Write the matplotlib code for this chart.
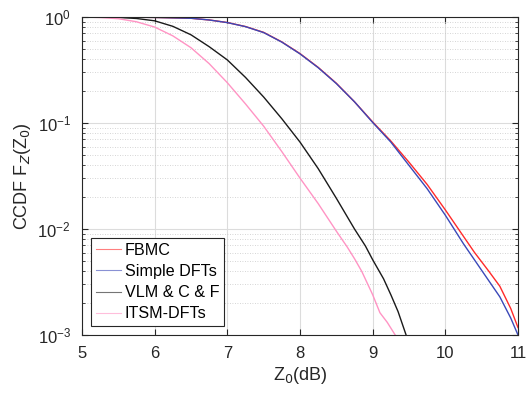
import numpy as np
import matplotlib
matplotlib.use("Agg")
import matplotlib.pyplot as plt
from matplotlib.ticker import LogLocator, NullFormatter

plt.rcParams['font.family'] = ['Liberation Sans', 'DejaVu Sans']

# log10 of CCDF values
x_fbmc = [5.0, 5.5, 6.0, 6.5, 6.75, 7.0, 7.25, 7.5, 7.75, 8.0, 8.25, 8.5, 8.75, 9.0,
          9.25, 9.5, 9.75, 10.0, 10.25, 10.4, 10.5, 10.6, 10.75, 10.9, 11.0]
l_fbmc = [0.0, -0.001, -0.004, -0.012, -0.028, -0.052, -0.09, -0.145, -0.235, -0.345, -0.475, -0.625, -0.80, -0.99,
          -1.17, -1.37, -1.58, -1.82, -2.07, -2.22, -2.31, -2.40, -2.54, -2.75, -2.93]

x_sdft = [5.0, 5.5, 6.0, 6.5, 6.75, 7.0, 7.25, 7.5, 7.75, 8.0, 8.25, 8.5, 8.75, 9.0,
          9.25, 9.5, 9.75, 10.0, 10.25, 10.4, 10.5, 10.6, 10.75, 10.9, 11.0]
l_sdft = [0.0, -0.001, -0.004, -0.012, -0.028, -0.053, -0.091, -0.147, -0.237, -0.348, -0.478, -0.628, -0.80, -0.995,
          -1.18, -1.40, -1.62, -1.87, -2.14, -2.29, -2.39, -2.49, -2.64, -2.84, -3.0]

x_vlm = [5.0, 5.5, 5.75, 6.0, 6.25, 6.5, 6.75, 7.0, 7.25, 7.5, 7.75, 8.0, 8.25, 8.5,
         8.75, 8.9, 9.0, 9.15, 9.25, 9.35, 9.46]
l_vlm = [0.0, -0.004, -0.014, -0.036, -0.088, -0.168, -0.28, -0.405, -0.57, -0.755, -0.96, -1.18, -1.43, -1.71,
         -2.0, -2.16, -2.29, -2.47, -2.62, -2.78, -3.0]

x_itsm = [5.0, 5.25, 5.5, 5.75, 6.0, 6.25, 6.5, 6.75, 7.0, 7.25, 7.5, 7.75, 8.0, 8.25,
          8.5, 8.65, 8.75, 8.85, 9.0, 9.1, 9.2, 9.31]
l_itsm = [0.0, -0.005, -0.016, -0.045, -0.095, -0.178, -0.29, -0.44, -0.62, -0.82, -1.03, -1.27, -1.52, -1.76,
          -2.02, -2.17, -2.28, -2.40, -2.62, -2.79, -2.88, -3.0]

labels = ['FBMC', 'Simple DFTs', 'VLM & C & F', 'ITSM-DFTs']
colors = ['#ff2a2a', '#3a48b8', '#1a1a1a', '#ff94c4']

fig = plt.figure(figsize=(5.26, 3.94), dpi=100)
ax = fig.add_axes([82/526, 1-335/394, (518-82)/526, (335-17)/394])

series = [(x_fbmc, l_fbmc), (x_sdft, l_sdft), (x_vlm, l_vlm), (x_itsm, l_itsm)]
for (xs, ls), lab, c in zip(series, labels, colors):
    ax.plot(xs, 10.0 ** np.array(ls), color=c, lw=1.0, label=lab)

ax.set_yscale('log')
ax.set_xlim(5, 11)
ax.set_ylim(1e-3, 1)
ax.set_xticks([5, 6, 7, 8, 9, 10, 11])
ax.yaxis.set_major_locator(LogLocator(base=10, numticks=10))
ax.yaxis.set_minor_locator(LogLocator(base=10, subs=np.arange(2, 10), numticks=10))
ax.yaxis.set_minor_formatter(NullFormatter())

ax.grid(True, which='major', color='#dcdcdc', lw=0.8, ls='-')
ax.grid(True, which='minor', axis='y', color='#c8c8c8', lw=0.6, ls=(0, (1, 2)))
ax.set_axisbelow(True)

ax.tick_params(which='both', direction='in', top=True, right=True, labelsize=12, colors='#262626')
ax.tick_params(which='major', length=4, pad=8)
ax.tick_params(which='minor', length=2)
for s in ax.spines.values():
    s.set_color('#262626')
    s.set_linewidth(0.8)

ax.set_xlabel(r'Z$_0$(dB)', fontsize=13, color='#262626', labelpad=3)
ax.set_ylabel(r'CCDF F$_Z$(Z$_0$)', fontsize=13, color='#262626', labelpad=3)

leg = ax.legend(loc='lower left', bbox_to_anchor=(0.02, 0.028), fontsize=11.6,
                frameon=True, fancybox=False, edgecolor='#262626', framealpha=1,
                handlelength=1.6, handletextpad=0.2, borderpad=0.3, labelspacing=0.38,
                borderaxespad=0)
leg.get_frame().set_linewidth(0.8)
for h in leg.get_lines():
    h.set_alpha(0.6)
    h.set_linewidth(0.8)

fig.savefig('out.png', dpi=100)
